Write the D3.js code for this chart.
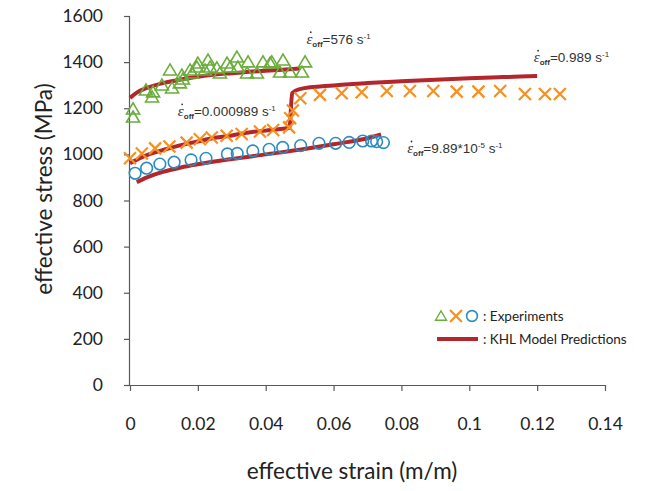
<!DOCTYPE html>
<html>
<head>
<meta charset="utf-8">
<script src="https://cdn.jsdelivr.net/npm/d3@7"></script>
<style>
  body { margin: 0; background: #ffffff; }
  svg { display: block; }
</style>
</head>
<body>
<svg id="chart" width="645" height="491"></svg>
<script>
// ---- axis ticks ----
const strainTicks = [0, 0.02, 0.04, 0.06, 0.08, 0.1, 0.12, 0.14];
const stressTicks = [0, 200, 400, 600, 800, 1000, 1200, 1400, 1600];

// ---- experiments: 576 /s (triangles) ----
const triStrain = [0.0009, 0.0009, 0.0047, 0.0065, 0.0068, 0.0094, 0.0118, 0.0124, 0.0147, 0.0153, 0.0156,
  0.0177, 0.0183, 0.0197, 0.0200, 0.0221, 0.0230, 0.0236, 0.0256, 0.0265, 0.0286, 0.0295, 0.0315, 0.0318,
  0.0345, 0.0348, 0.0374, 0.0392, 0.0413, 0.0418, 0.0442, 0.0451, 0.0472, 0.0507, 0.0516];
const triStress = [1197, 1162, 1279, 1249, 1271, 1301, 1366, 1288, 1310, 1344, 1327,
  1366, 1353, 1379, 1396, 1366, 1409, 1379, 1375, 1353, 1396, 1379, 1422, 1379,
  1353, 1401, 1353, 1401, 1396, 1401, 1357, 1409, 1357, 1357, 1401];

// ---- experiments: 0.000989 /s jumped to 0.989 /s (crosses) ----
const crossStrain = [0.0000, 0.0035, 0.0074, 0.0116, 0.0167, 0.0206, 0.0241, 0.0285, 0.0329, 0.0383, 0.0422, 0.0469,
  0.0472, 0.0480, 0.0502, 0.0560, 0.0624, 0.0683, 0.0757, 0.0825, 0.0894, 0.0963, 0.1027, 0.1091, 0.1164, 0.1223, 0.1267];
const crossStress = [983, 1004, 1026, 1034, 1051, 1066, 1073, 1081, 1088, 1099, 1106, 1117,
  1157, 1190, 1243, 1258, 1265, 1269, 1275, 1275, 1275, 1272, 1272, 1275, 1262, 1262, 1262];

// ---- experiments: 9.89e-5 /s (circles) ----
const circStrain = [0.0015, 0.0049, 0.0088, 0.0130, 0.0180, 0.0224, 0.0287, 0.0316, 0.0362, 0.0410, 0.0450,
  0.0503, 0.0557, 0.0606, 0.0646, 0.0686, 0.0712, 0.0727, 0.0747];
const circStress = [918, 940, 958, 966, 976, 983, 1002, 1004, 1015, 1022, 1030,
  1038, 1048, 1048, 1052, 1058, 1058, 1055, 1051];

// ---- KHL model predictions ----
const khlFastStrain = [0, 0.002, 0.005, 0.01, 0.015, 0.02, 0.025, 0.03, 0.035, 0.04, 0.045, 0.05];
const khlFastStress = [1245, 1268, 1288, 1310, 1325, 1337, 1346, 1352, 1358, 1363, 1367, 1372];

const khlJumpStrain = [0, 0.005, 0.01, 0.015, 0.02, 0.025, 0.03, 0.035, 0.04, 0.045, 0.047,
  0.0478, 0.05, 0.06, 0.07, 0.08, 0.09, 0.10, 0.11, 0.12];
const khlJumpStress = [962, 997, 1020, 1040, 1056, 1072, 1082, 1095, 1103, 1111, 1115,
  1266, 1283, 1299, 1309, 1317, 1324, 1330, 1335, 1340];

const khlSlowStrain = [0.002, 0.005, 0.01, 0.015, 0.02, 0.03, 0.04, 0.05, 0.06, 0.07, 0.074];
const khlSlowStress = [879, 900, 925, 943, 957, 980, 1000, 1020, 1044, 1070, 1086];

// ---- rate labels ----
const rateLabels = [
  { value: "=576 s", sup: "-1" },
  { value: "=0.989 s", sup: "-1" },
  { value: "=0.000989 s", sup: "-1" },
  { value: "=9.89*10", sup: "-5", tail: " s", sup2: "-1" }
];
const rateLabelAt = [[0.052, 1480], [0.119, 1400], [0.0141, 1167], [0.0817, 1006]];

// ---- colours ----
const cTri = "#6aad3d", cCross = "#f7901e", cCirc = "#2b8cbe", cModel = "#b3262b", cAxis = "#595959";

const svg = d3.select("#chart");
const margin = { left: 130, top: 16, right: 40, bottom: 106 };
const W = 645, H = 491;

const x = d3.scaleLinear().domain([0, 0.14]).range([margin.left, W - margin.right]);
const y = d3.scaleLinear().domain([0, 1600]).range([H - margin.bottom, margin.top]);

const axisFont = "Lato, 'Open Sans', sans-serif";

// x axis
const gx = svg.append("g")
  .attr("transform", `translate(0,${y(0)})`)
  .call(d3.axisBottom(x).tickValues(strainTicks).tickSize(6).tickPadding(27)
    .tickFormat(d => d === 0 ? "0" : String(+d.toFixed(2))));
// y axis
const gy = svg.append("g")
  .attr("transform", `translate(${x(0)},0)`)
  .call(d3.axisLeft(y).tickValues(stressTicks).tickSize(6).tickPadding(21).tickFormat(d3.format("d")));

[gx, gy].forEach(g => {
  g.select(".domain").attr("stroke", cAxis).attr("stroke-width", 1.2);
  g.selectAll(".tick line").attr("stroke", cAxis).attr("stroke-width", 1.2);
  g.selectAll(".tick text").attr("fill", "#222").style("font-family", axisFont).style("font-size", "17.5px");
});
gx.select(".domain").attr("d", `M${x(0) - 6},0.5H${x(0.14)}`);
gy.select(".domain").attr("d", `M-0.5,${y(1600)}V${y(0)}`);

// axis titles
svg.append("text")
  .attr("x", 352).attr("y", 479)
  .attr("text-anchor", "middle")
  .style("font-family", axisFont).style("font-size", "22.5px").attr("fill", "#222")
  .text("effective strain (m/m)");
svg.append("text")
  .attr("transform", `translate(52,189) rotate(-90)`)
  .attr("text-anchor", "middle")
  .style("font-family", axisFont).style("font-size", "22.5px").attr("fill", "#222")
  .text("effective stress (MPa)");

// model curves
const line = d3.line().x(d => x(d[0])).y(d => y(d[1])).curve(d3.curveMonotoneX);
const zipPts = (a, b) => a.map((v, i) => [v, b[i]]);
const models = [
  zipPts(khlFastStrain, khlFastStress),
  zipPts(khlJumpStrain, khlJumpStress),
  zipPts(khlSlowStrain, khlSlowStress)
];
svg.append("g").selectAll("path").data(models).join("path")
  .attr("d", line)
  .attr("fill", "none").attr("stroke", cModel).attr("stroke-width", 4).attr("stroke-linejoin", "miter");

// markers
const triPath = "M0,-6L6.5,5L-6.5,5Z";
const crossPath = "M-6,-6L6,6M-6,6L6,-6";

svg.append("g").selectAll("path").data(zipPts(triStrain, triStress)).join("path")
  .attr("transform", d => `translate(${x(d[0])},${y(d[1])})`)
  .attr("d", triPath).attr("fill", "none").attr("stroke", cTri).attr("stroke-width", 1.6);

svg.append("g").selectAll("path").data(zipPts(crossStrain, crossStress)).join("path")
  .attr("transform", d => `translate(${x(d[0])},${y(d[1])})`)
  .attr("d", crossPath).attr("fill", "none").attr("stroke", cCross).attr("stroke-width", 2.2);

svg.append("g").selectAll("circle").data(zipPts(circStrain, circStress)).join("circle")
  .attr("cx", d => x(d[0])).attr("cy", d => y(d[1])).attr("r", 5.8)
  .attr("fill", "none").attr("stroke", cCirc).attr("stroke-width", 1.6);

// strain-rate annotations
rateLabels.forEach((lab, i) => {
  const px = x(rateLabelAt[i][0]), py = y(rateLabelAt[i][1]);
  const g = svg.append("g").attr("transform", `translate(${px},${py})`);
  const t = g.append("text").attr("fill", "#333").style("font-family", "'Liberation Sans', Arial, sans-serif").style("font-size", "13.5px");
  t.append("tspan").style("font-family", "'Liberation Serif', 'DejaVu Serif', serif").style("font-style", "italic").style("font-size", "15px").text("ε");
  t.append("tspan").attr("dy", 3).style("font-size", "8px").style("font-weight", "bold").text("off");
  t.append("tspan").attr("dy", -3).text(lab.value);
  t.append("tspan").attr("dy", -5).style("font-size", "8px").text(lab.sup);
  if (lab.tail) {
    t.append("tspan").attr("dy", 5).text(lab.tail);
    t.append("tspan").attr("dy", -5).style("font-size", "8px").text(lab.sup2);
  }
  g.append("circle").attr("cx", 4.3).attr("cy", -11.5).attr("r", 0.9).attr("fill", "#333");
});

// legend
const lg = svg.append("g").attr("transform", "translate(441,316)");
lg.append("path").attr("transform", "scale(0.85)").attr("d", triPath).attr("fill", "none").attr("stroke", cTri).attr("stroke-width", 1.6);
lg.append("path").attr("transform", "translate(15,0)").attr("d", crossPath).attr("fill", "none").attr("stroke", cCross).attr("stroke-width", 2.2);
lg.append("circle").attr("cx", 31).attr("cy", 0).attr("r", 5.4).attr("fill", "none").attr("stroke", cCirc).attr("stroke-width", 1.6);
lg.append("text").attr("x", 42).attr("y", 4.5).style("font-family", axisFont).style("font-size", "13.5px").attr("fill", "#222").text(": Experiments");
lg.append("line").attr("x1", -4).attr("x2", 37).attr("y1", 23).attr("y2", 23).attr("stroke", cModel).attr("stroke-width", 4);
lg.append("text").attr("x", 42).attr("y", 27.5).style("font-family", axisFont).style("font-size", "13.5px").attr("fill", "#222").text(": KHL Model Predictions");
</script>
</body>
</html>
